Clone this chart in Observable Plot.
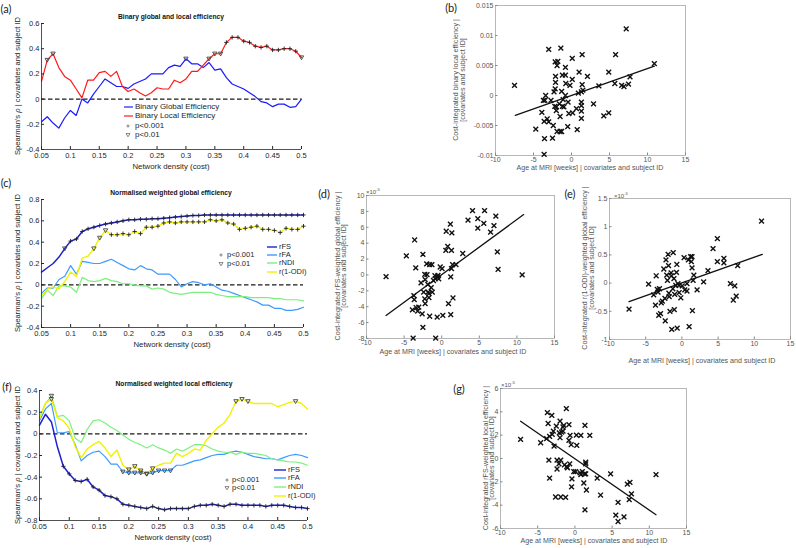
<!DOCTYPE html>
<html><head><meta charset="utf-8">
<script src="https://cdn.jsdelivr.net/npm/d3@7"></script>
<script src="https://cdn.jsdelivr.net/npm/@observablehq/plot@0.6"></script>
<style>
body{margin:0;background:#fff;}
#root{position:relative;width:796px;height:548px;overflow:hidden;background:#fff;font-family:"Liberation Sans",Arial,sans-serif;}
.t{position:absolute;white-space:nowrap;line-height:1;}
.t sup{font-size:70%;vertical-align:top;position:relative;top:-0.2em;}
</style></head><body><div id="root"></div>
<script>
// ---------------- DATA ----------------
const density = [0.05,0.06,0.07,0.08,0.09,0.10,0.11,0.12,0.13,0.14,0.15,0.16,0.17,0.18,0.19,0.20,0.21,0.22,0.23,0.24,0.25,0.26,0.27,0.28,0.29,0.30,0.31,0.32,0.33,0.34,0.35,0.36,0.37,0.38,0.39,0.40,0.41,0.42,0.43,0.44,0.45,0.46,0.47,0.48,0.49,0.50];
const densityTicks = [0.05,0.1,0.15,0.2,0.25,0.3,0.35,0.4,0.45,0.5];

// (a) binary global / local efficiency
const aGlobal = [-0.18,-0.14,-0.19,-0.23,-0.15,-0.09,-0.13,0.0,-0.03,0.04, 0.1,0.16,0.13,0.1,0.1,0.085,0.12,0.14,0.16,0.2, 0.2,0.2,0.25,0.27,0.26,0.32,0.28,0.28,0.25,0.29, 0.23,0.24,0.17,0.12,0.1,0.08,0.05,0.02,-0.02,-0.03, -0.06,-0.04,-0.04,-0.065,-0.06,0.0];
const aLocal = [0.14,0.31,0.36,0.25,0.18,0.15,0.08,0.01,0.15,0.15, 0.21,0.22,0.18,0.22,0.1,0.06,0.08,0.05,0.025,0.05, 0.09,0.08,0.08,0.15,0.13,0.16,0.22,0.22,0.27,0.32, 0.36,0.36,0.45,0.49,0.49,0.46,0.45,0.42,0.41,0.42, 0.39,0.39,0.40,0.40,0.38,0.33];
const aGlobalP01 = [0.30];
const aLocalP001 = [0.37,0.38,0.39,0.40,0.41,0.42,0.43,0.44,0.45,0.46,0.47,0.48,0.49];
const aLocalP01 = [0.06,0.07,0.34,0.35,0.36,0.50];
const aYTicks = [-0.4,-0.2,0,0.2,0.4,0.6];

// (c) normalised weighted global efficiency
const cFS = [0.12,0.16,0.2,0.26,0.34,0.41,0.43,0.5,0.525,0.54, 0.556,0.57,0.58,0.59,0.6,0.61,0.61,0.615,0.615,0.62, 0.62,0.625,0.63,0.635,0.64,0.645,0.65,0.65,0.655,0.655, 0.655,0.655,0.655,0.655,0.655,0.655,0.655,0.655,0.655,0.655, 0.655,0.655,0.655,0.655,0.655,0.655];
const cFA = [-0.08,-0.03,-0.03,0.05,0.08,0.18,0.1,0.22,0.21,0.2, 0.2,0.22,0.24,0.21,0.18,0.15,0.14,0.18,0.15,0.14, 0.1,0.1,0.1,0.05,-0.02,0.01,0.03,0.02,0.0,0.01, -0.02,-0.05,-0.06,-0.08,-0.1,-0.12,-0.14,-0.16,-0.19,-0.19, -0.22,-0.22,-0.24,-0.24,-0.23,-0.21];
const cNDI = [-0.13,-0.05,-0.1,-0.01,-0.01,-0.02,-0.07,0.07,0.04,0.03, 0.04,0.06,0.04,0.03,0.01,0.01,0.0,-0.01,-0.01,-0.04, -0.03,-0.04,-0.07,-0.08,-0.09,-0.08,-0.07,-0.07,-0.07,-0.07, -0.09,-0.1,-0.11,-0.11,-0.11,-0.11,-0.12,-0.12,-0.12,-0.12, -0.13,-0.13,-0.14,-0.14,-0.14,-0.15];
const cODI = [-0.1,-0.04,-0.02,-0.04,0.03,0.12,0.08,0.25,0.27,0.34, 0.44,0.51,0.47,0.47,0.48,0.47,0.5,0.48,0.54,0.54, 0.55,0.58,0.59,0.58,0.59,0.59,0.59,0.59,0.59,0.61, 0.6,0.61,0.58,0.57,0.52,0.53,0.54,0.55,0.52,0.52, 0.51,0.49,0.53,0.52,0.52,0.55];
const cFSP01 = [0.09];
const cFSP001 = [0.10,0.11,0.12,0.13,0.14,0.15,0.16,0.17,0.18,0.19,0.20,0.21,0.22,0.23,0.24,0.25,0.26,0.27,0.28,0.29,0.30,0.31,0.32,0.33,0.34,0.35,0.36,0.37,0.38,0.39,0.40,0.41,0.42,0.43,0.44,0.45,0.46,0.47,0.48,0.49,0.50];
const cODIP01 = [0.14,0.15,0.16];
const cODIP001 = [0.17,0.18,0.19,0.20,0.21,0.22,0.23,0.24,0.25,0.26,0.27,0.28,0.29,0.30,0.31,0.32,0.33,0.34,0.35,0.36,0.37,0.38,0.39,0.40,0.41,0.42,0.43,0.44,0.45,0.46,0.47,0.48,0.49,0.50];
const cYTicks = [-0.4,-0.2,0,0.2,0.4,0.6,0.8];

// (f) normalised weighted local efficiency
const fFS = [0.08,0.18,0.11,-0.12,-0.3,-0.37,-0.43,-0.44,-0.42,-0.49, -0.52,-0.57,-0.58,-0.6,-0.65,-0.66,-0.67,-0.68,-0.69,-0.67, -0.69,-0.7,-0.69,-0.69,-0.69,-0.69,-0.67,-0.66,-0.66,-0.65, -0.66,-0.67,-0.65,-0.65,-0.66,-0.66,-0.66,-0.66,-0.67,-0.66, -0.66,-0.66,-0.67,-0.68,-0.68,-0.69];
const fFA = [0.12,0.23,0.28,0.01,0.01,0.02,-0.1,-0.25,-0.2,-0.17, -0.16,-0.21,-0.28,-0.28,-0.35,-0.36,-0.36,-0.36,-0.37,-0.36, -0.34,-0.34,-0.34,-0.29,-0.29,-0.27,-0.25,-0.24,-0.22,-0.2, -0.19,-0.19,-0.17,-0.16,-0.17,-0.19,-0.21,-0.22,-0.23,-0.23, -0.24,-0.22,-0.2,-0.19,-0.2,-0.22];
const fNDI = [0.15,0.28,0.35,0.16,0.17,0.12,-0.04,-0.08,0.04,0.12, 0.13,0.1,0.06,0.03,-0.01,-0.05,-0.08,-0.1,-0.13,-0.1, -0.13,-0.15,-0.18,-0.14,-0.16,-0.13,-0.1,-0.1,-0.11,-0.14, -0.16,-0.17,-0.17,-0.19,-0.17,-0.18,-0.18,-0.19,-0.2,-0.23, -0.24,-0.25,-0.26,-0.26,-0.27,-0.29];
const fODI = [0.14,0.28,0.32,0.15,0.12,0.05,-0.12,-0.22,-0.14,-0.1, -0.07,-0.13,-0.21,-0.15,-0.29,-0.33,-0.3,-0.34,-0.37,-0.32, -0.29,-0.27,-0.27,-0.18,-0.21,-0.18,-0.14,-0.15,-0.06,0.0, 0.06,0.1,0.18,0.3,0.32,0.3,0.28,0.28,0.28,0.28, 0.25,0.27,0.29,0.3,0.28,0.23];
const fFSP001 = [0.09,0.10,0.11,0.12,0.13,0.14,0.15,0.16,0.17,0.18,0.19,0.20,0.21,0.22,0.23,0.24,0.25,0.26,0.27,0.28,0.29,0.30,0.31,0.32,0.33,0.34,0.35,0.36,0.37,0.38,0.39,0.40,0.41,0.42,0.43,0.44,0.45,0.46,0.47,0.48,0.49,0.50];
const fFAP01 = [0.19,0.20,0.21,0.22,0.23,0.24,0.25,0.26,0.27];
const fNDIP01 = [0.07];
const fODIP01 = [0.07,0.20,0.21,0.22,0.23,0.24,0.38,0.39,0.40,0.48];
const fYTicks = [-0.8,-0.6,-0.4,-0.2,0,0.2,0.4];

// scatter panels: [age at MRI (weeks), residual value]
const ageTicks = [-10,-5,0,5,10,15];
const bPoints = [[-7.5,0.0017],[-4.7,-0.0056],[-3.9,-0.0028],[-3.7,-0.0008],[-3.55,-0.0072],[-3.6,-0.0098],[-3.4,0.0000],[-3.5,-0.0008],[-3.6,-0.0043],[-3.2,-0.0039],[-3.0,-0.0044],[-3.0,0.0077],[-2.7,-0.0008],[-2.5,-0.0071],[-2.4,-0.0050],[-2.3,0.0006],[-2.2,-0.0018],[-2.15,0.0011],[-2.1,0.0022],[-2.1,0.0032],[-2.15,0.0056],[-1.9,0.0050],[-1.8,0.0057],[-2.0,-0.0025],[-2.0,-0.0019],[-1.9,-0.0060],[-1.6,-0.0014],[-1.5,-0.0035],[-1.5,-0.0060],[-1.4,0.0079],[-1.3,0.0007],[-1.3,-0.0060],[-1.2,0.0034],[-1.2,-0.0018],[-1.1,-0.0007],[-1.0,-0.0019],[-0.8,0.0000],[-0.8,0.0047],[-0.8,0.0034],[-0.75,0.0020],[-0.5,-0.0052],[-0.45,-0.0011],[-0.35,-0.0030],[-0.2,0.0017],[0.1,0.0027],[0.1,0.0062],[0.15,-0.0029],[0.65,-0.0022],[0.75,-0.0057],[0.9,0.0004],[1.0,0.0039],[1.3,-0.0011],[1.3,-0.0017],[1.3,-0.0026],[1.3,-0.0038],[1.3,0.0006],[1.4,0.0068],[1.4,0.0018],[1.5,0.0009],[2.1,0.0032],[2.9,-0.0014],[3.6,0.0016],[4.25,-0.0034],[4.9,0.0039],[4.9,-0.0029],[5.8,0.0068],[5.7,0.0020],[6.6,0.0017],[6.9,0.0015],[7.2,0.0111],[7.5,0.0019],[7.7,0.0031],[10.9,0.0053]];
const bFit = [[-7.4,-0.0033],[10.9,0.0049]];
const bYTicks = [-0.01,-0.005,0,0.005,0.01,0.015];

const dPoints = [[-7.4,-0.22],[-4.7,2.4],[-3.9,-4.4],[-3.6,4.4],[-3.45,0.9],[-3.7,-2.6],[-3.65,-3.1],[-3.4,-4.1],[-3.2,-4.55],[-3.05,-4.05],[-3.8,-7.95],[-2.75,-1.0],[-2.6,-4.9],[-2.5,-6.6],[-2.5,2.6],[-2.25,0.08],[-2.2,-0.6],[-2.4,-2.15],[-2.25,-3.0],[-2.2,-3.6],[-2.0,1.4],[-1.95,0.05],[-1.85,-1.2],[-1.8,-2.15],[-1.7,-2.35],[-1.7,-2.85],[-1.6,-5.2],[-1.6,1.3],[-1.4,-1.6],[-1.3,1.3],[-1.25,-2.15],[-1.1,-0.7],[-0.9,-0.1],[-0.85,-0.45],[-0.8,-7.95],[-0.6,-5.3],[-0.55,-0.25],[-0.5,-0.05],[-0.4,-0.5],[-0.2,1.0],[0.05,0.8],[0.15,-5.1],[0.55,3.1],[0.6,5.5],[0.8,3.6],[0.9,-3.6],[1.15,6.4],[1.2,-0.25],[1.3,0.8],[1.3,3.1],[1.35,5.3],[1.2,-5.0],[1.5,-2.9],[1.45,1.3],[1.9,1.3],[2.8,2.7],[3.5,6.9],[4.1,8.1],[4.8,7.1],[4.8,5.9],[5.6,6.5],[5.7,8.1],[6.5,5.4],[6.95,6.2],[7.2,7.4],[7.4,2.9],[7.5,0.7],[10.7,0.0]];
const dFit = [[-7.4,-5.1],[10.9,7.6]];
const dYTicks = [-8,-6,-4,-2,0,2,4,6,8,10];

const ePoints = [[-7.3,-0.46],[-4.6,-0.02],[-3.9,-0.21],[-3.65,-0.39],[-3.55,0.13],[-3.4,-0.11],[-3.3,-0.16],[-3.1,-0.1],[-3.2,-0.57],[-2.95,-0.54],[-2.85,-0.35],[-2.7,-0.32],[-2.5,0.25],[-2.35,-0.27],[-2.3,-0.67],[-2.2,0.41],[-2.1,0.14],[-2.0,0.05],[-1.9,0.51],[-1.85,0.31],[-1.8,-0.18],[-1.75,-0.24],[-1.65,-0.5],[-1.5,0.18],[-1.45,0.13],[-1.4,-0.82],[-1.25,-0.1],[-1.2,0.54],[-1.1,0.08],[-1.05,-0.47],[-1.0,-0.2],[-0.85,-0.04],[-0.75,0.19],[-0.7,0.33],[-0.65,-0.8],[-0.55,-0.01],[-0.4,-0.04],[-0.38,-0.17],[-0.15,-0.26],[0.05,-0.05],[0.3,0.45],[0.4,-0.12],[0.7,-0.14],[0.7,-0.01],[0.9,0.41],[1.0,-0.77],[1.2,0.47],[1.3,0.38],[1.4,0.47],[1.4,0.27],[1.45,-0.49],[1.55,0.05],[1.65,0.14],[2.1,-0.12],[3.0,0.02],[3.6,0.22],[4.3,0.61],[4.9,0.79],[4.9,0.38],[5.8,0.44],[5.8,0.36],[6.7,-0.01],[7.1,-0.3],[7.3,-0.05],[7.5,-0.23],[7.7,0.31],[11.0,1.1]];
const eFit = [[-7.3,-0.33],[11.1,0.51]];
const eYTicks = [-1,-0.5,0,0.5,1,1.5];

const gPoints = [[-7.3,1.64],[-4.6,1.35],[-3.8,1.7],[-3.7,3.93],[-3.6,3.0],[-3.5,-0.14],[-3.4,-1.69],[-3.4,1.9],[-3.1,3.7],[-3.05,2.07],[-2.9,2.35],[-2.8,1.06],[-2.6,-3.3],[-2.5,2.78],[-2.4,-0.14],[-2.4,-0.9],[-2.15,-0.46],[-2.1,2.2],[-2.0,3.2],[-2.0,1.78],[-1.9,-3.3],[-1.9,-0.14],[-1.8,2.27],[-1.6,2.35],[-1.6,2.7],[-1.5,2.84],[-1.4,-0.55],[-1.25,-3.33],[-1.15,4.28],[-1.1,-0.69],[-1.0,-0.8],[-0.8,2.9],[-0.8,1.55],[-0.7,-0.46],[-0.65,1.98],[-0.5,1.18],[-0.45,-2.44],[-0.4,-1.75],[-0.15,-1.12],[0.1,-1.12],[0.2,2.0],[0.25,1.12],[0.7,-1.24],[0.8,1.98],[0.8,-1.38],[1.0,-1.12],[1.3,-1.32],[1.2,-2.1],[1.35,2.84],[1.35,-4.4],[1.45,-0.32],[1.45,-0.46],[1.55,-2.7],[1.45,-1.32],[2.0,1.98],[3.0,-1.69],[3.45,-3.13],[4.8,-1.32],[5.5,-4.85],[5.8,-3.76],[5.8,-5.4],[6.6,-5.0],[7.05,-2.2],[7.3,-3.53],[7.4,-2.04],[7.6,-3.04],[10.9,-1.38]];
const gFit = [[-7.3,3.19],[10.9,-4.82]];
const gYTicks = [-6,-4,-2,0,2,4,6];

// ---------------- DRAWING ----------------
const root = document.getElementById("root");
const FONT = '"Liberation Sans", Arial, sans-serif';
const AX = "#262626";
const SC = "#555555";
const fmt = d => String(d);
const NS = "http://www.w3.org/2000/svg";

const triDown = {draw(ctx, size) {
  const s = Math.sqrt(size / Math.PI);
  ctx.moveTo(-s, -0.75 * s); ctx.lineTo(s, -0.75 * s); ctx.lineTo(0, s); ctx.closePath();
}};

function place(svg, left, top) {
  svg.style.position = "absolute"; svg.style.left = left + "px"; svg.style.top = top + "px";
  root.append(svg);
}
function txt(content, x, y, o = {}) {
  const d = document.createElement("div");
  d.className = "t";
  if (o.html) d.innerHTML = content; else d.textContent = content;
  Object.assign(d.style, {left: x + "px", top: y + "px", fontSize: (o.size || 7.5) + "px",
    color: o.color || AX, fontWeight: o.bold ? "bold" : "normal", fontFamily: o.family || FONT});
  d.style.transform = (o.start ? "translate(0,-50%)" : "translate(-50%,-50%)") + (o.rotate ? " rotate(-90deg)" : "");
  root.append(d);
}
function el(name, attrs) { const e = document.createElementNS(NS, name); for (const k in attrs) e.setAttribute(k, attrs[k]); return e; }
function swatchLine(x1, x2, y, color, w) {
  const s = el("svg", {width: x2 - x1, height: 4});
  s.append(el("line", {x1: 0, x2: x2 - x1, y1: 2, y2: 2, stroke: color, "stroke-width": w || 1.2}));
  place(s, x1, y - 2);
}
function swatchMarker(x, y, kind) {
  const s = el("svg", {width: 8, height: 8});
  if (kind === "plus") s.append(el("path", {d: "M2.4,4H5.6M4,2.4V5.6", stroke: "#777", "stroke-width": 0.9, fill: "none"}));
  else s.append(el("path", {d: "M2,2.6H6L4,5.8Z", stroke: "#777", "stroke-width": 0.9, fill: "none"}));
  place(s, x - 4, y - 4);
}

function seriesRows(values) { return density.map((d, i) => ({x: d, y: values[i]})); }
function markRows(values, at) { return at.map(x => ({x, y: values[density.findIndex(d => Math.abs(d - x) < 1e-9)]})); }

function linePanel(c) {
  const marks = [Plot.ruleY([0], {stroke: "#1a1a1a", strokeWidth: 1.1, strokeDasharray: "4.5,2.5"})];
  for (const s of c.series) marks.push(Plot.line(seriesRows(s.values), {x: "x", y: "y", stroke: s.color, strokeWidth: s.width || 1.2}));
  for (const s of c.series) {
    if (s.p001) marks.push(Plot.dot(markRows(s.values, s.p001), {x: "x", y: "y", symbol: "plus", r: 1.5, stroke: "#222", strokeWidth: 0.9}));
    if (s.p01) marks.push(Plot.dot(markRows(s.values, s.p01), {x: "x", y: "y", symbol: triDown, r: 2.2, fill: "none", stroke: "#444", strokeWidth: 0.9}));
  }
  marks.push(
    Plot.ruleX([density[0]], {stroke: AX, strokeWidth: 0.8}),
    Plot.ruleY([c.yDomain[0]], {stroke: AX, strokeWidth: 0.8}),
    Plot.axisX(densityTicks, {tickSize: -3, tickPadding: 6.5, tickFormat: fmt, color: AX, label: null}),
    Plot.axisY(c.yTicks, {tickSize: -3, tickPadding: 5, tickFormat: fmt, color: AX, label: null})
  );
  const svg = Plot.plot({
    width: c.width, height: c.height, marginLeft: c.ml, marginRight: c.mr, marginTop: c.mt, marginBottom: c.mb,
    x: {domain: [0.05, 0.5]}, y: {domain: c.yDomain},
    style: {fontFamily: FONT, fontSize: "7.5px", color: AX, background: "transparent", overflow: "visible"},
    marks
  });
  place(svg, c.left, c.top);
}

function scatterPanel(c) {
  const pts = c.points.map(([x, y]) => ({x, y}));
  const fit = c.fit.map(([x, y]) => ({x, y}));
  const svg = Plot.plot({
    width: c.width, height: c.height, marginLeft: c.ml, marginRight: c.mr, marginTop: c.mt, marginBottom: c.mb,
    x: {domain: [-10, 15]}, y: {domain: c.yDomain},
    style: {fontFamily: FONT, fontSize: "7px", color: SC, background: "transparent", overflow: "visible"},
    marks: [
      Plot.frame({stroke: "#a6a6a6", strokeWidth: 0.8}),
      Plot.axisX(ageTicks, {tickSize: -2.5, tickPadding: 4.5, tickFormat: fmt, color: SC, stroke: "#8a8a8a", label: null}),
      Plot.axisY(c.yTicks, {tickSize: -2.5, tickPadding: 4.5, tickFormat: fmt, color: SC, stroke: "#8a8a8a", label: null}),
      Plot.dot(pts, {x: "x", y: "y", symbol: "times", r: 2.3, stroke: "#111", strokeWidth: 1.4}),
      Plot.line(fit, {x: "x", y: "y", stroke: "#111", strokeWidth: 1.3})
    ]
  });
  place(svg, c.left, c.top);
}

const BLUE = "#1a1aff", RED = "#ff1a1a";
const C_FS = "#2020d0", C_FA = "#3d9bff", C_NDI = "#7cf07c", C_ODI = "#f2f200";

// (a)
linePanel({left: 0, top: 0, width: 310, height: 165, ml: 41, mr: 9, mt: 23, mb: 16, yDomain: [-0.4, 0.6], yTicks: aYTicks,
  series: [{values: aGlobal, color: BLUE, p01: aGlobalP01}, {values: aLocal, color: RED, p001: aLocalP001, p01: aLocalP01}]});
// (c)
linePanel({left: 0, top: 185, width: 312, height: 155, ml: 41, mr: 9, mt: 14, mb: 13, yDomain: [-0.4, 0.8], yTicks: cYTicks,
  series: [{values: cFS, color: C_FS, width: 1.5, p01: cFSP01, p001: cFSP001}, {values: cFA, color: C_FA}, {values: cNDI, color: C_NDI},
           {values: cODI, color: C_ODI, width: 1.4, p01: cODIP01, p001: cODIP001}]});
// (f)
linePanel({left: 0, top: 378, width: 315, height: 160, ml: 39, mr: 8, mt: 12, mb: 18, yDomain: [-0.8, 0.4], yTicks: fYTicks,
  series: [{values: fFS, color: C_FS, width: 1.5, p001: fFSP001}, {values: fFA, color: C_FA, p01: fFAP01}, {values: fNDI, color: C_NDI, p01: fNDIP01},
           {values: fODI, color: C_ODI, width: 1.4, p01: fODIP01}]});

// scatters
scatterPanel({left: 470, top: 0, width: 220, height: 170, ml: 25, mr: 5, mt: 5, mb: 15, yDomain: [-0.01, 0.015], yTicks: bYTicks, points: bPoints, fit: bFit});
scatterPanel({left: 340, top: 185, width: 220, height: 165, ml: 26, mr: 6, mt: 10, mb: 12, yDomain: [-8, 10], yTicks: dYTicks, points: dPoints, fit: dFit});
scatterPanel({left: 585, top: 185, width: 210, height: 165, ml: 24, mr: 5, mt: 13, mb: 11, yDomain: [-1, 1.5], yTicks: eYTicks, points: ePoints, fit: eFit});
scatterPanel({left: 475, top: 378, width: 215, height: 160, ml: 25, mr: 4, mt: 10, mb: 10, yDomain: [-6, 6], yTicks: gYTicks, points: gPoints, fit: gFit});

// ---------------- TEXT ----------------
const LET = {size: 11, family: "Lato, 'Open Sans', sans-serif", color: "#222"};
txt("(a)", 6, 8, LET); txt("(b)", 451, 7, LET); txt("(c)", 6, 182, LET); txt("(d)", 324, 193, LET);
txt("(e)", 570, 193, LET); txt("(f)", 7, 386, LET); txt("(g)", 459, 388, LET);

txt("Binary global and local efficiency", 171, 17, {size: 6.7, bold: true, color: "#111"});
txt("Normalised weighted global efficiency", 171, 193, {size: 6.7, bold: true, color: "#111"});
txt("Normalised weighted local efficiency", 174, 384, {size: 6.7, bold: true, color: "#111"});

const yLab = "Spearman's <i>ρ</i> | covariates and subject ID";
txt(yLab, 18, 86, {size: 7.6, rotate: true, html: true});
txt(yLab, 18, 263, {size: 7.6, rotate: true, html: true});
txt(yLab, 18, 455, {size: 7.6, rotate: true, html: true});
txt("Network density (cost)", 171, 167, {size: 7.8});
txt("Network density (cost)", 172, 345, {size: 7.8});
txt("Network density (cost)", 173, 538, {size: 7.8});

const xAge = "Age at MRI [weeks] | covariates and subject ID";
const S = {size: 7.1, color: SC};
txt(xAge, 590, 169, S); txt(xAge, 453, 353, S); txt(xAge, 702, 362, S); txt(xAge, 594, 542, S);
const SR = {size: 7.1, color: SC, rotate: true};
txt("Cost-integrated binary local efficiency |", 457, 80, SR); txt("[covariates and subject ID]", 464, 80, SR);
txt("Cost-integrated rFS-weighted global efficiency |", 339, 266, SR); txt("[covariates and subject ID]", 345, 266, SR);
txt("Cost-integrated r(1-ODI)-weighted global efficiency |", 586, 268, SR); txt("[covariates and subject ID]", 593, 268, SR);
txt("Cost-integrated rFS-weighted local efficiency |", 487, 458, SR); txt("[covariates and subject ID]", 493, 458, SR);
const EXP = {size: 6, color: SC, start: true, html: true};
txt("×10<sup>-5</sup>", 366, 192, EXP); txt("×10<sup>-5</sup>", 614, 196, EXP); txt("×10<sup>-5</sup>", 501, 385, EXP);

// legends
const L8 = {size: 8, start: true};
swatchLine(124, 133, 107, BLUE); txt("Binary Global Efficiency", 135, 107, L8);
swatchLine(124, 133, 116, RED); txt("Binary Local Efficiency", 135, 116, L8);
swatchMarker(128, 126, "plus"); txt("p<0.001", 135, 126, L8);
swatchMarker(128, 135, "tri"); txt("p<0.01", 135, 135, L8);

const L7 = {size: 7.5, start: true};
const legRows = [["rFS", C_FS], ["rFA", C_FA], ["rNDI", C_NDI], ["r(1-ODI)", C_ODI]];
[247, 255, 263, 272].forEach((y, i) => { swatchLine(267, 277, y, legRows[i][1], 1.4); txt(legRows[i][0], 279, y, L7); });
swatchMarker(221, 255, "plus"); txt("p<0.001", 227, 255, L7);
swatchMarker(221, 264, "tri"); txt("p<0.01", 227, 264, L7);
[470, 478, 487, 496].forEach((y, i) => { swatchLine(274, 286, y, legRows[i][1], 1.4); txt(legRows[i][0], 288, y, L7); });
swatchMarker(227, 480, "plus"); txt("p<0.001", 232, 480, L7);
swatchMarker(227, 488, "tri"); txt("p<0.01", 232, 488, L7);
</script>
</body></html>
